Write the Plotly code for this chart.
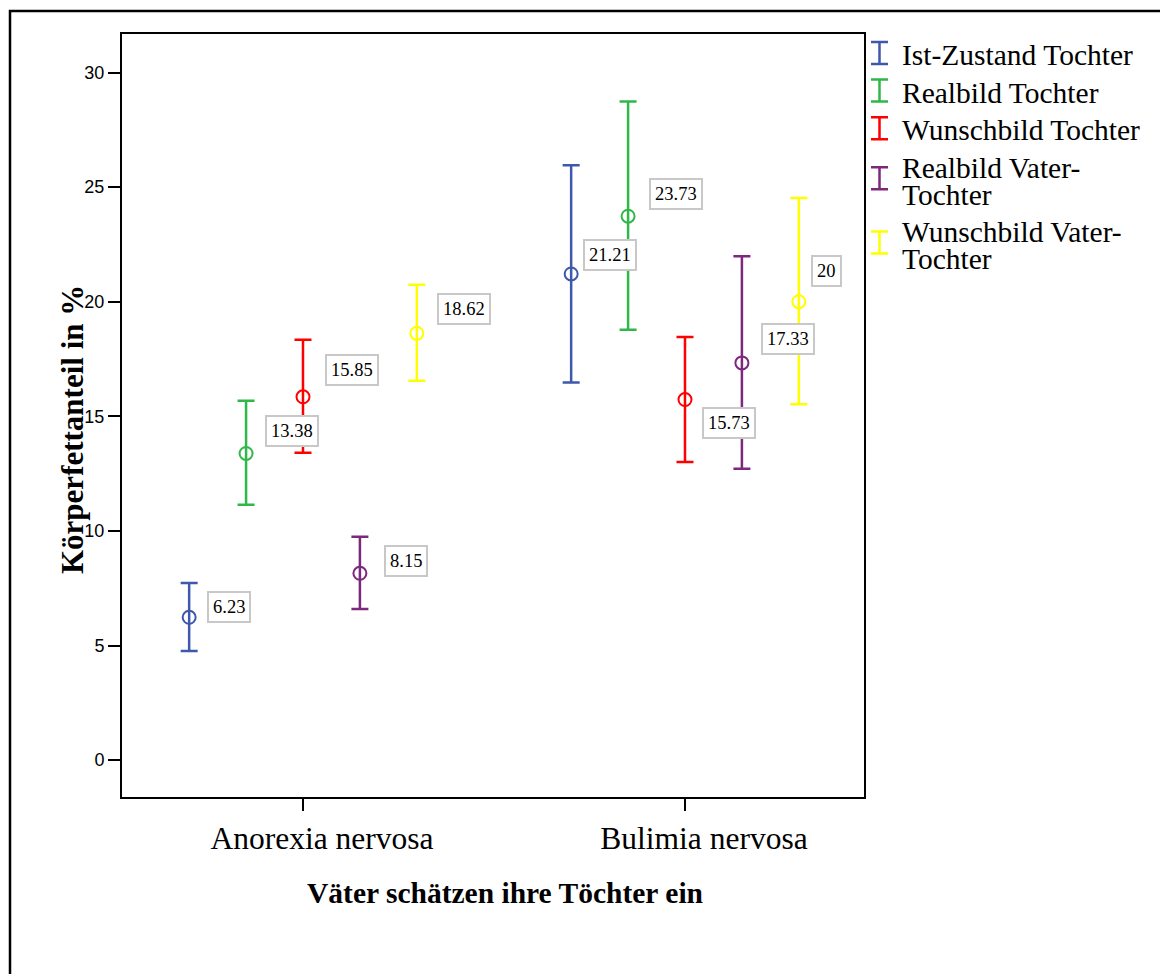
import plotly.graph_objects as go

# ---- data -------------------------------------------------------------
categories = ["Anorexia nervosa", "Bulimia nervosa"]
series = [
    "Ist-Zustand Tochter",
    "Realbild Tochter",
    "Wunschbild Tochter",
    "Realbild Vater-Tochter",
    "Wunschbild Vater-Tochter",
]

# mean body-fat percentage per group
mean_ist = [6.23, 21.21]
mean_real = [13.38, 23.73]
mean_wunsch = [15.85, 15.73]
mean_real_vt = [8.15, 17.33]
mean_wunsch_vt = [18.62, 20.0]

# 95% confidence interval bounds
ci_low_ist = [4.76, 16.48]
ci_high_ist = [7.73, 25.95]
ci_low_real = [11.14, 18.78]
ci_high_real = [15.68, 28.73]
ci_low_wunsch = [13.41, 13.01]
ci_high_wunsch = [18.34, 18.46]
ci_low_real_vt = [6.59, 12.71]
ci_high_real_vt = [9.74, 21.98]
ci_low_wunsch_vt = [16.55, 15.53]
ci_high_wunsch_vt = [20.74, 24.53]

y_ticks = [0, 5, 10, 15, 20, 25, 30]

# ---- styling ----------------------------------------------------------
colors = ["#3E58AC", "#2EB848", "#FF0000", "#7C287D", "#FFFF00"]
# pixel offsets of the value boxes relative to each point (dx, dy)
label_shifts = [
    [(40, 10), (39, 19)],
    [(46, 22), (48, 22)],
    [(49, 27), (44, -23)],
    [(46, 12), (46, 24)],
    [(47, 24), (28, 31)],
]
dodge = 0.149

W, H = 1160, 974
ML, MR, MT, MB = 122, 296, 34, 177
SERIF = "Liberation Serif"
SANS = "Liberation Sans"


def px_x(px):
    return (px - ML) / (W - ML - MR)


def px_y(py):
    return (H - MB - py) / (H - MT - MB)


means = [mean_ist, mean_real, mean_wunsch, mean_real_vt, mean_wunsch_vt]
lows = [ci_low_ist, ci_low_real, ci_low_wunsch, ci_low_real_vt, ci_low_wunsch_vt]
highs = [ci_high_ist, ci_high_real, ci_high_wunsch, ci_high_real_vt, ci_high_wunsch_vt]

fig = go.Figure()
annotations = []
shapes = []

for i, name in enumerate(series):
    xs = [c + (i - 2) * dodge for c in range(len(categories))]
    m, lo, hi = means[i], lows[i], highs[i]
    fig.add_trace(go.Scatter(
        x=xs, y=m, mode="markers", name=name, showlegend=False,
        marker=dict(symbol="circle-open", size=13, color=colors[i],
                    line=dict(width=2, color=colors[i])),
        error_y=dict(type="data", symmetric=False,
                     array=[h - v for h, v in zip(hi, m)],
                     arrayminus=[v - l for v, l in zip(m, lo)],
                     color=colors[i], thickness=2.5, width=8.5),
    ))
    for j, v in enumerate(m):
        dx, dy = label_shifts[i][j]
        annotations.append(dict(
            x=xs[j], y=v, xref="x", yref="y", text=f"{v:g}", showarrow=False,
            xshift=dx, yshift=dy, xanchor="center", yanchor="middle",
            font=dict(family=SERIF, size=18.5, color="black"),
            bgcolor="white", bordercolor="#c8c8c8", borderwidth=2, borderpad=4,
        ))

# legend: error-bar glyph plus wrapped text
legend_lines = []
for name in series:
    if "Vater-" in name:
        head, tail = name.split("Vater-")
        legend_lines.append([head + "Vater-", tail])
    else:
        legend_lines.append([name])

baseline = 65.0
line_gap, entry_gap = 26.6, 11.0
for i, lines in enumerate(legend_lines):
    cy = baseline - 12 + (len(lines) - 1) * 12.5
    x0, x1, xc = px_x(871), px_x(888), px_x(879.5)
    yt, yb = px_y(cy - 11), px_y(cy + 11)
    shapes.append(dict(type="path", xref="paper", yref="paper",
                       path=f"M {x0},{yt} L {x1},{yt} M {xc},{yt} L {xc},{yb} M {x0},{yb} L {x1},{yb}",
                       line=dict(color=colors[i], width=2.5)))
    for k, txt in enumerate(lines):
        annotations.append(dict(
            x=px_x(901), y=px_y(baseline - 9.9), xref="paper", yref="paper",
            text=txt, showarrow=False, xanchor="left", yanchor="middle",
            font=dict(family=SERIF, size=29.5, color="black"), borderpad=0,
        ))
        baseline += line_gap
    baseline += entry_gap

# axis titles
annotations.append(dict(
    x=px_x(505), y=px_y(893), xref="paper", yref="paper",
    text="<b>Väter schätzen ihre Töchter ein</b>", showarrow=False,
    xanchor="center", yanchor="middle",
    font=dict(family=SERIF, size=29.5, color="black"),
))
annotations.append(dict(
    x=px_x(72), y=px_y(430), xref="paper", yref="paper",
    text="<b>Körperfettanteil in %</b>", showarrow=False, textangle=-90,
    xanchor="center", yanchor="middle",
    font=dict(family=SERIF, size=31, color="black"),
))

# outer frame (left and top edges)
fx0, fx1 = px_x(10), px_x(1170)
fy0, fy1 = px_y(11), px_y(990)
shapes.append(dict(type="path", xref="paper", yref="paper",
                   path=f"M {fx1},{fy0} L {fx0},{fy0} L {fx0},{fy1}",
                   line=dict(color="black", width=2.5)))

fig.update_layout(
    width=W, height=H,
    margin=dict(l=ML, r=MR, t=MT, b=MB, pad=0),
    paper_bgcolor="white", plot_bgcolor="white",
    showlegend=False,
    annotations=annotations, shapes=shapes,
    xaxis=dict(
        range=[-0.4738, 1.4686], tickmode="array", tickvals=list(range(len(categories))),
        ticktext=categories, ticks="outside", ticklen=12, tickwidth=2, tickcolor="black",
        showline=True, linecolor="black", linewidth=2, mirror=True,
        showgrid=False, zeroline=False, ticklabelshift=19,
        tickfont=dict(family=SERIF, size=31.5, color="black"),
    ),
    yaxis=dict(
        range=[-1.61, 31.68], tickmode="array", tickvals=y_ticks,
        ticks="outside", ticklen=12, tickwidth=2, tickcolor="black",
        showline=True, linecolor="black", linewidth=2, mirror=True,
        showgrid=False, zeroline=False,
        tickfont=dict(family=SANS, size=18, color="black"),
    ),
)

fig.write_html("out.html")
